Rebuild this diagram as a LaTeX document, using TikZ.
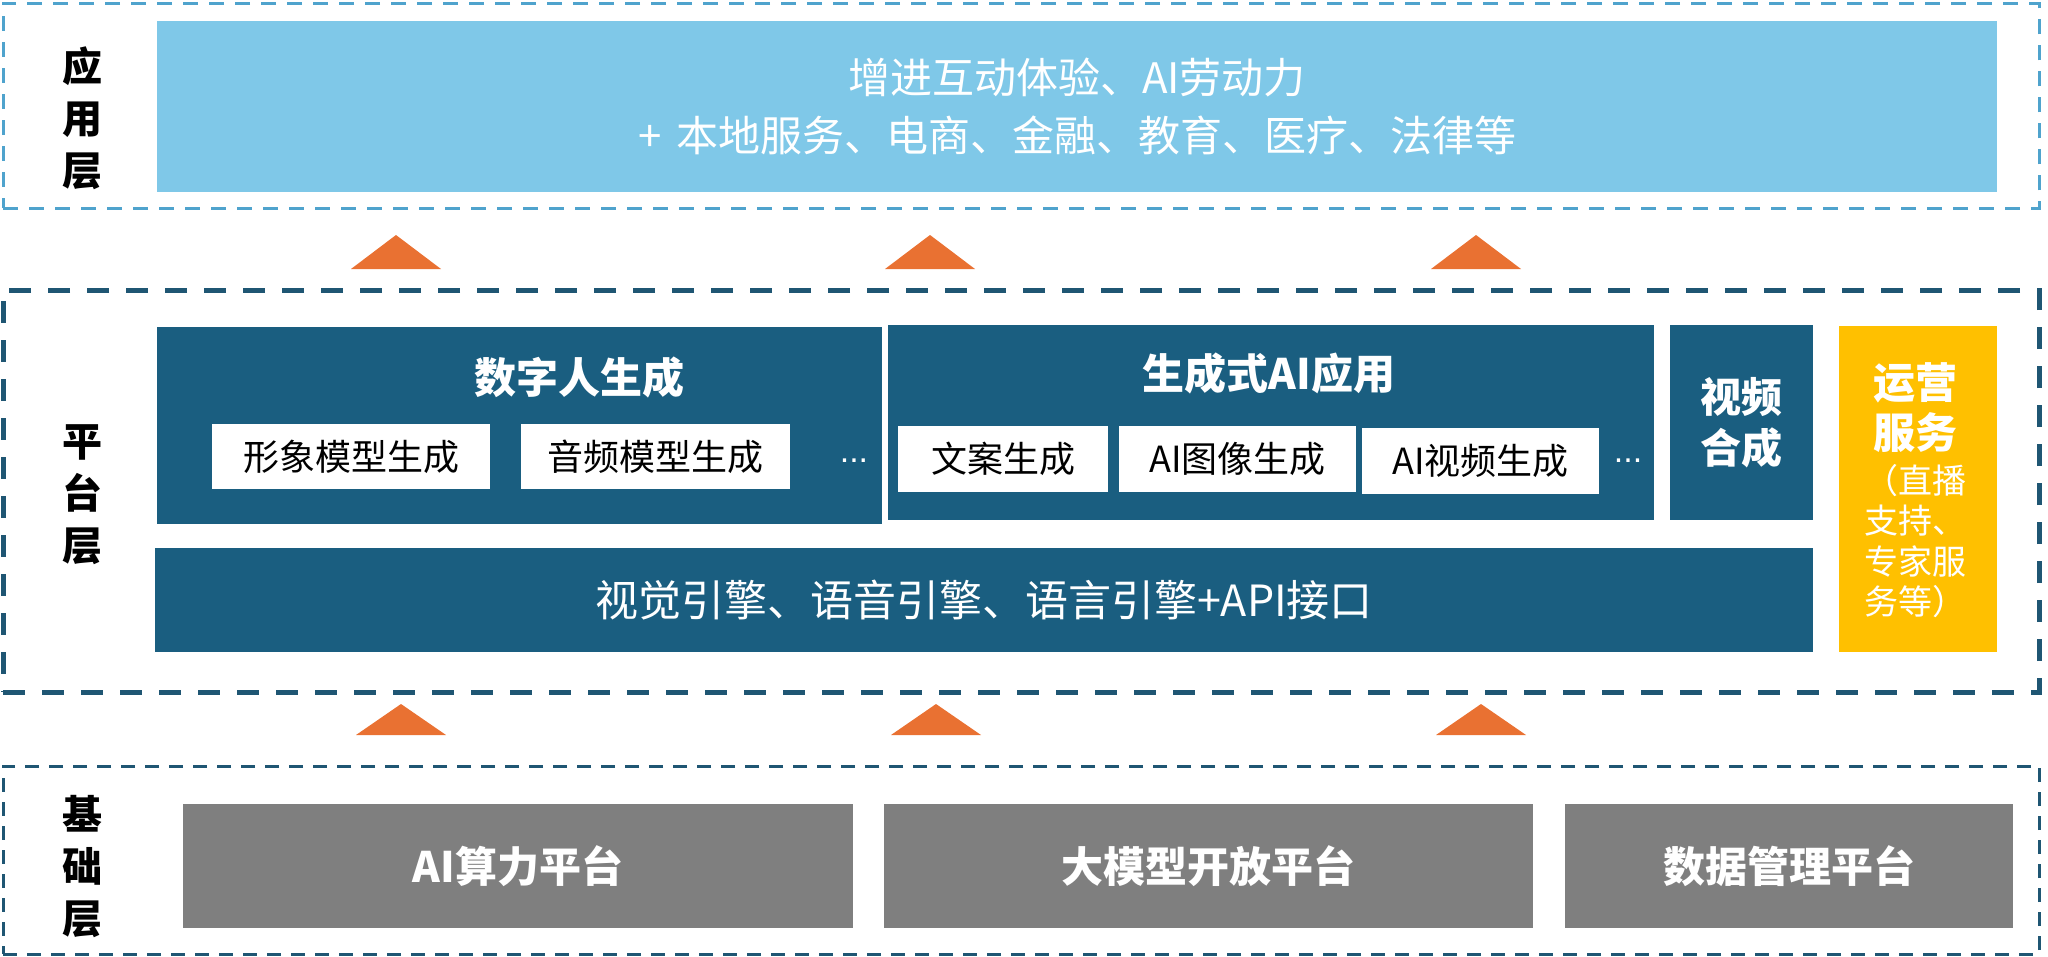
\documentclass[tikz,border=0pt]{standalone}
\usepackage{fontspec}
\setmainfont{Noto Sans CJK SC}
\newfontfamily\latinf{Liberation Sans}
\definecolor{appblue}{HTML}{7FC8E8}
\definecolor{appdash}{HTML}{4FA3CD}
\definecolor{darkteal}{HTML}{1A5E80}
\definecolor{platdash}{HTML}{1F5673}
\definecolor{orng}{HTML}{E97132}
\definecolor{yel}{HTML}{FFC000}
\definecolor{gry}{HTML}{7F7F7F}
\tikzset{
  layerbox/.style={draw, inner sep=0pt, line cap=butt},
  appframe/.style={layerbox, draw=appdash, line width=1.5pt, dash pattern=on 7.5pt off 5.5pt},
  platframe/.style={layerbox, draw=platdash, line width=2.5pt, dash pattern=on 11pt off 8.5pt},
  foundframe/.style={layerbox, draw=platdash, line width=1.5pt, dash pattern=on 7pt off 5pt},
  fillbox/.style={inner sep=0pt, outer sep=0pt, text=white},
  tealbox/.style={fillbox, fill=darkteal},
  whitebox/.style={fill=white, inner sep=0pt, text=black, font=\fontsize{18pt}{22pt}\selectfont},
  graybox/.style={fillbox, fill=gry, font=\bfseries\fontsize{21pt}{25pt}\selectfont},
  layerlabel/.style={align=center, text=black, font=\bfseries\fontsize{20pt}{26pt}\selectfont},
  tri/.style={fill=orng},
  dots/.style={text=white, anchor=base, font=\latinf\fontsize{17pt}{20pt}\selectfont}
}
\begin{document}
\begin{tikzpicture}[x=0.5pt,y=-0.5pt]
\useasboundingbox (0,0) rectangle (2048,957);

% layer frames
\node[appframe, minimum width=1018pt, minimum height=102.5pt] (applayer) at (1021,106) {};
\node[platframe, minimum width=1018pt, minimum height=201pt] (platlayer) at (1021,491) {};
\node[foundframe, minimum width=1018pt, minimum height=94pt] (foundlayer) at (1021,860) {};

% layer labels
\node[layerlabel] (lapp) at (82,118) {应\\用\\层};
\node[layerlabel] (lplat) at (82,495) {平\\台\\层};
\node[layerlabel] (lfound) at (82,867) {基\\础\\层};

% application layer
\node[fillbox, fill=appblue, minimum width=920pt, minimum height=85.5pt, align=center,
      font=\fontsize{21pt}{29pt}\selectfont] (appbox) at (1077,106.5)
  {增进互动体验、AI劳动力\\+\hspace{0.35em}本地服务、电商、金融、教育、医疗、法律等};

% platform layer
\node[tealbox, minimum width=362.5pt, minimum height=98.5pt] (dhuman) at (519.5,425.5) {};
\node[text=white, font=\bfseries\fontsize{21pt}{25pt}\selectfont] (dhumant) at (579,377) {数字人生成};
\node[whitebox, minimum width=139pt, minimum height=32.5pt] (w1) at (351,456.5) {形象模型生成};
\node[whitebox, minimum width=134.5pt, minimum height=32.5pt] (w2) at (655.5,456.5) {音频模型生成};
\node[dots] (d1) at (854,462) {...};

\node[tealbox, minimum width=383pt, minimum height=97.5pt] (genai) at (1271,422.5) {};
\node[text=white, font=\bfseries\fontsize{21pt}{25pt}\selectfont] (genait) at (1269,373) {生成式AI应用};
\node[whitebox, minimum width=105pt, minimum height=33pt] (w3) at (1003,459) {文案生成};
\node[whitebox, minimum width=118.5pt, minimum height=33pt] (w4) at (1237.5,459) {AI图像生成};
\node[whitebox, minimum width=118.5pt, minimum height=33pt] (w5) at (1480.5,461) {AI视频生成};
\node[dots] (d2) at (1628,462) {...};

\node[tealbox, minimum width=71.5pt, minimum height=97.5pt, align=center,
      font=\bfseries\fontsize{20.5pt}{25.5pt}\selectfont] (video) at (1741.5,422.5) {视频\\合成};

\node[fillbox, fill=yel, minimum width=79pt, minimum height=163pt] (ops) at (1918,489) {};
\node[text=white, align=center, font=\bfseries\fontsize{21pt}{25pt}\selectfont] (opst) at (1915,408) {运营\\服务};
\node[text=white, align=center, font=\fontsize{17pt}{20.3pt}\selectfont] (opsn) at (1915,541) {（直播\\支持、\\专家服\\务等）};

\node[tealbox, minimum width=829pt, minimum height=52pt,
      font=\fontsize{21.5pt}{25pt}\selectfont] (engine) at (984,600) {视觉引擎、语音引擎、语言引擎+API接口};

% foundation layer
\node[graybox, minimum width=335pt, minimum height=62pt] (g1) at (518,866) {AI算力平台};
\node[graybox, minimum width=324.5pt, minimum height=62pt] (g2) at (1208.5,866) {大模型开放平台};
\node[graybox, minimum width=224pt, minimum height=62pt] (g3) at (1789,866) {数据管理平台};

% arrows (triangles)
\foreach \cx in {396,930,1476} {
  \fill[tri] (\cx-45,269) -- (\cx,235) -- (\cx+45,269) -- cycle;
}
\foreach \cx in {401,936,1481} {
  \fill[tri] (\cx-45,735) -- (\cx,704) -- (\cx+45,735) -- cycle;
}
\end{tikzpicture}
\end{document}
